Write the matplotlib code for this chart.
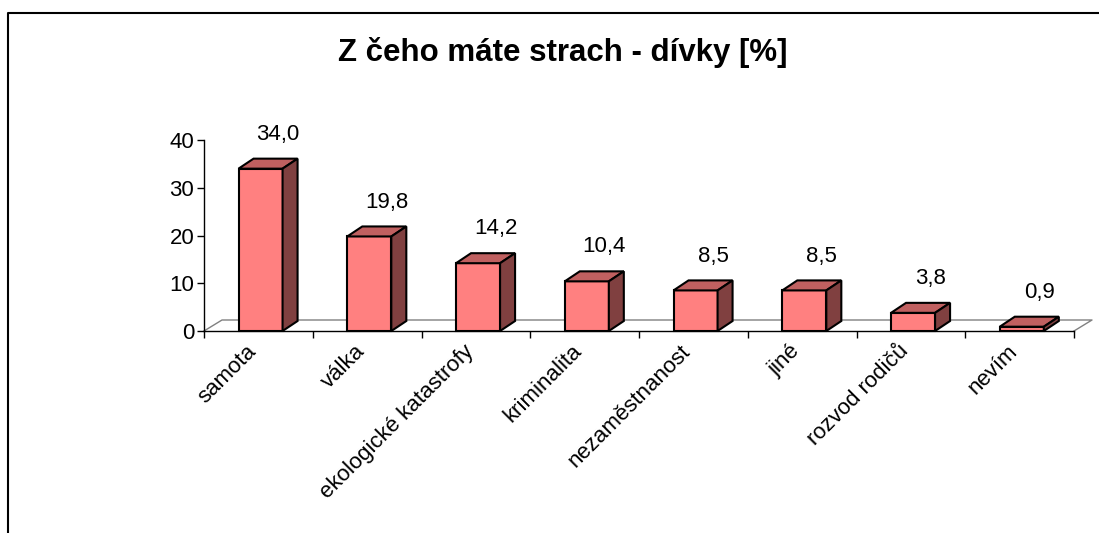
import matplotlib.pyplot as plt
from matplotlib.patches import Polygon
from matplotlib.lines import Line2D

plt.rcParams['font.family'] = ['Liberation Sans', 'DejaVu Sans']

categories = ['samota', 'válka', 'ekologické katastrofy', 'kriminalita',
              'nezaměstnanost', 'jiné', 'rozvod rodičů', 'nevím']
values = [34.0, 19.8, 14.2, 10.4, 8.5, 8.5, 3.8, 0.9]
title = 'Z čeho máte strach - dívky [%]'

W, H = 1099, 533
fig = plt.figure(figsize=(W / 100, H / 100), dpi=100)

# axes placed in pixels: y axis at x=204, 0 at y=331, 40 at y=140
x0, y0, x1, y1 = 204, 331, 1074, 140
ax = fig.add_axes([x0 / W, 1 - y0 / H, (x1 - x0) / W, (y0 - y1) / H])
n = len(categories)
ax.set_xlim(0, n)
ax.set_ylim(0, 40)

px_x = n / (x1 - x0)      # data per pixel, x
px_y = 40 / (y0 - y1)     # data per pixel, y

bar_dx, bar_dy = 15 * px_x, 10 * px_y
floor_dx, floor_dy = 18 * px_x, 11 * px_y
bw = 0.405

front_c = '#ff8080'
top_c = '#c06060'
side_c = '#804040'

# floor
gray = '#808080'
ax.plot([0, floor_dx, n + floor_dx, n], [0, floor_dy, floor_dy, 0],
        color=gray, lw=1, clip_on=False, zorder=1)

for i, v in enumerate(values):
    c = i + 0.5 + 0.02
    l, r = c - bw / 2, c + bw / 2
    front = Polygon([(l, 0), (r, 0), (r, v), (l, v)], closed=True,
                    facecolor=front_c, edgecolor='black', lw=1.5, zorder=3)
    top = Polygon([(l, v), (r, v), (r + bar_dx, v + bar_dy), (l + bar_dx, v + bar_dy)],
                  closed=True, facecolor=top_c, edgecolor='black', lw=1.5, zorder=3)
    side = Polygon([(r, 0), (r + bar_dx, bar_dy), (r + bar_dx, v + bar_dy), (r, v)],
                   closed=True, facecolor=side_c, edgecolor='black', lw=1.5, zorder=3)
    for p in (front, top, side):
        p.set_clip_on(False)
        ax.add_patch(p)
    ax.text(c + 0.16, v + 7.2, ('%.1f' % v).replace('.', ','), ha='center', va='center',
            fontsize=16, zorder=4)

for s in ['top', 'right']:
    ax.spines[s].set_visible(False)
ax.spines['left'].set_linewidth(1)
ax.spines['bottom'].set_linewidth(1)
ax.spines['bottom'].set_zorder(4)

ax.set_yticks([0, 10, 20, 30, 40])
ax.tick_params(axis='y', direction='out', length=5, width=1, labelsize=16, pad=2)
ax.set_xticks([i + 0.38 for i in range(n)])
ax.set_xticklabels(categories, rotation=45, ha='right', rotation_mode='anchor', fontsize=16)
ax.set_xticks(range(n + 1), minor=True)
ax.tick_params(axis='x', which='major', length=0, pad=7)
ax.tick_params(axis='x', which='minor', direction='out', length=5, width=1)

fig.text(563 / W, 1 - 52 / H, title, ha='center', va='center',
         fontsize=22.5, fontweight='bold')

# outer chart frame (left and top edges only visible)
fig.add_artist(Line2D([8 / W, 8 / W, 1.0], [0.0, 1 - 13 / H, 1 - 13 / H],
                      transform=fig.transFigure, color='black', lw=1.5))

fig.savefig('out.png', dpi=100)
